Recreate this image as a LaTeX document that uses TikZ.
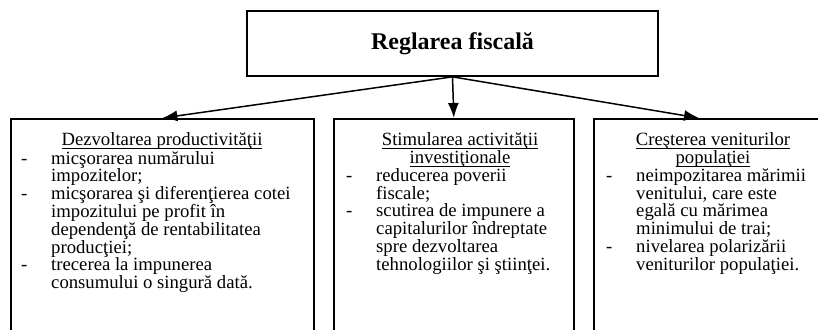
\documentclass[tikz,border=0pt]{standalone}
\usepackage{fontspec}
\setmainfont{Liberation Serif}
\usetikzlibrary{arrows.meta}

\newcommand{\dsh}{\makebox[30pt][l]{-}}
\newcommand{\hng}{\hspace*{30pt}}
\newcommand{\listfont}{\fontsize{18.7}{17.8}\selectfont\lineskiplimit=-20pt\relax}
\newcommand{\hdline}[1]{\setbox0\hbox{#1}\rlap{\rule[-3pt]{\wd0}{0.9pt}}\box0}

\begin{document}
\begin{tikzpicture}[x=1pt, y=-1pt, >={Latex[length=15pt,width=11pt]}]

% Page frame
\useasboundingbox (0,0) rectangle (818,329);
\clip (0,0) rectangle (818,329);

\tikzset{
    top block/.style={
        draw, line width=1.7pt, rectangle,
        minimum width=411pt, minimum height=65pt, inner sep=0pt,
        font=\bfseries\fontsize{24}{28}\selectfont
    },
    branch block/.style={
        draw, line width=1.7pt, rectangle, anchor=north west,
        minimum height=240pt, inner sep=0pt
    },
    heading/.style={
        anchor=base, inner sep=0pt,
        font=\listfont
    },
    % base of a list = baseline of its last line
    item list/.style={
        anchor=base west, inner sep=0pt, align=left,
        font=\listfont
    },
    link/.style={
        ->, line width=1.5pt
    }
}

% Title block
\node[top block] (R) at (452.5,43.5) {Reglarea fiscală};

% Branch blocks
\node[branch block, minimum width=303pt] (D) at (10,118) {};
\node[branch block, minimum width=240pt] (S) at (333,118) {};
\node[branch block, minimum width=240pt] (C) at (593,118) {};
\coordinate (Ctop) at (699,118);

% Headings
\node[heading] (Dh) at (162,145.7) {\hdline{Dezvoltarea productivităţii}};
\node[heading] (Sh1) at (460,145.7) {\hdline{Stimularea activităţii}};
\node[heading] (Sh2) at (460,163.5) {\hdline{investiţionale}};
\node[heading] (Ch1) at (713,145.7) {\hdline{Creşterea veniturilor}};
\node[heading] (Ch2) at (713,163.5) {\hdline{populaţiei}};

% Lists
\node[item list] (Dl) at (21,288.6) {%
    \dsh micşorarea numărului\\
    \hng impozitelor;\\
    \dsh micşorarea şi diferenţierea cotei\\
    \hng impozitului pe profit în\\
    \hng dependenţă de rentabilitatea\\
    \hng producţiei;\\
    \dsh trecerea la impunerea\\
    \hng consumului o singură dată.};
\node[item list] (Sl) at (346,270.3) {%
    \dsh reducerea poverii\\
    \hng fiscale;\\
    \dsh scutirea de impunere a\\
    \hng capitalurilor îndreptate\\
    \hng spre dezvoltarea\\
    \hng tehnologiilor şi ştiinţei.};
\node[item list] (Cl) at (606,270.3) {%
    \dsh neimpozitarea mărimii\\
    \hng venitului, care este\\
    \hng egală cu mărimea\\
    \hng minimului de trai;\\
    \dsh nivelarea polarizării\\
    \hng veniturilor populaţiei.};

% Connectors
\draw[link] (R.south) -- (D.north);
\draw[link] (R.south) -- (S.north);
\draw[link] (R.south) -- (Ctop);

\end{tikzpicture}
\end{document}
